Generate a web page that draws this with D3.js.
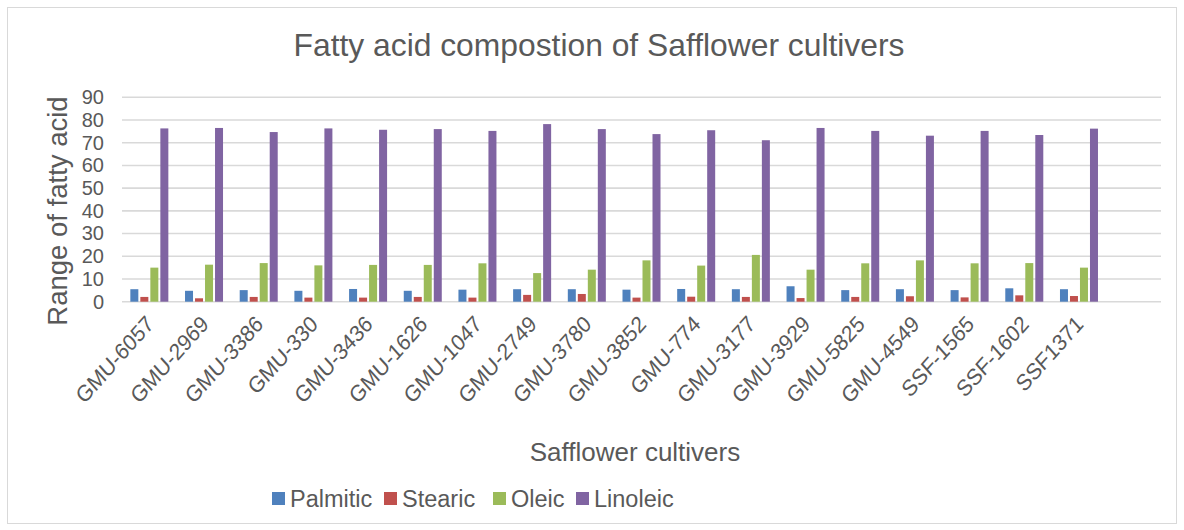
<!DOCTYPE html>
<html>
<head>
<meta charset="utf-8">
<script src="https://cdn.jsdelivr.net/npm/d3@7"></script>
<style>
  body { margin: 0; background: #fff; }
  text { font-family: 'Liberation Sans', Arial, sans-serif; fill: #595959; }
</style>
</head>
<body>
<script>
var cultivars = ['GMU-6057', 'GMU-2969', 'GMU-3386', 'GMU-330', 'GMU-3436', 'GMU-1626', 'GMU-1047', 'GMU-2749', 'GMU-3780',
    'GMU-3852', 'GMU-774', 'GMU-3177', 'GMU-3929', 'GMU-5825', 'GMU-4549', 'SSF-1565', 'SSF-1602', 'SSF1371'];
var series = ['Palmitic', 'Stearic', 'Oleic', 'Linoleic'];
var colors = ['#4f81bd', '#c0504d', '#9bbb59', '#8064a2'];
var palmitic = [5.5, 4.8, 5.1, 4.8, 5.6, 4.8, 5.3, 5.5, 5.5, 5.3, 5.6, 5.5, 6.8, 5.1, 5.5, 5.1, 5.9, 5.5];
var stearic = [2.1, 1.5, 2.1, 1.8, 1.8, 2.1, 1.8, 3.0, 3.4, 1.8, 2.2, 2.1, 1.6, 2.1, 2.4, 1.9, 2.8, 2.5];
var oleic = [15.0, 16.3, 17.0, 16.0, 16.2, 16.2, 16.9, 12.6, 14.1, 18.2, 15.9, 20.6, 14.1, 16.9, 18.2, 16.9, 17.0, 15.0];
var linoleic = [76.3, 76.5, 74.7, 76.3, 75.7, 76.0, 75.2, 78.2, 76.0, 73.8, 75.5, 71.1, 76.5, 75.2, 73.1, 75.2, 73.4, 76.2];
var yTicks = [0, 10, 20, 30, 40, 50, 60, 70, 80, 90];

var w = 1184;
var h = 530;
var plotLeft = 122, plotRight = 1161, plotTop = 97.3, plotBottom = 301.7;
// excel left room for one more category at the end
var step = (plotRight - plotLeft) / (cultivars.length + 1);

var values = [palmitic, stearic, oleic, linoleic];

var svg = d3.select('body')
    .append('svg')
    .attr('width', w)
    .attr('height', h);

// chart border
svg.append('rect')
    .attr('x', 7.5)
    .attr('y', 7.5)
    .attr('width', 1169)
    .attr('height', 516)
    .attr('fill', '#fff')
    .attr('stroke', '#d9d9d9')
    .attr('stroke-width', 1);

var x = d3.scaleBand()
    .domain(cultivars)
    .range([plotLeft, plotLeft + step * cultivars.length])
    .paddingInner(0.305)
    .paddingOuter(0.1525);

var xSub = d3.scaleBand()
    .domain(series)
    .range([0, x.bandwidth()])
    .paddingInner(0.2);

var y = d3.scaleLinear()
    .domain([0, 90])
    .range([plotBottom, plotTop]);

// gridlines
svg.selectAll('line.grid')
    .data(yTicks)
    .enter()
    .append('line')
    .attr('class', 'grid')
    .attr('x1', plotLeft)
    .attr('x2', plotRight)
    .attr('y1', function(d){ return y(d); })
    .attr('y2', function(d){ return y(d); })
    .attr('stroke', '#d9d9d9')
    .attr('stroke-width', 1.6);

// y axis labels
var yAxis = svg.append('g')
    .attr('transform', 'translate(' + (plotLeft - 18) + ',0)')
    .call(d3.axisLeft(y).tickValues(yTicks).tickSize(0).tickPadding(0));
yAxis.select('.domain').remove();
yAxis.selectAll('text')
    .attr('font-size', '20px')
    .attr('font-family', "'Liberation Sans', Arial, sans-serif")
    .attr('fill', '#595959');

// bars, one group per cultivar
var groups = svg.selectAll('g.cult')
    .data(cultivars)
    .enter()
    .append('g')
    .attr('class', 'cult')
    .attr('transform', function(d){ return 'translate(' + x(d) + ',0)'; });

groups.selectAll('rect')
    .data(function(d, i){
        return series.map(function(s, j){ return {key: s, value: values[j][i], color: colors[j]}; });
    })
    .enter()
    .append('rect')
    .attr('x', function(d){ return xSub(d.key); })
    .attr('y', function(d){ return y(d.value); })
    .attr('width', xSub.bandwidth())
    .attr('height', function(d){ return y(0) - y(d.value); })
    .attr('fill', function(d){ return d.color; });

// x axis labels rotated (text in the picture is a bit taller than wide)
var xAxis = svg.append('g')
    .attr('transform', 'translate(0,' + (plotBottom + 14) + ')')
    .call(d3.axisBottom(x).tickSize(0).tickPadding(0));
xAxis.select('.domain').remove();
xAxis.selectAll('text')
    .attr('font-size', '20.5px')
    .attr('font-family', "'Liberation Sans', Arial, sans-serif")
    .attr('fill', '#595959')
    .attr('text-anchor', 'end')
    .attr('dy', '0.6em')
    .attr('transform', 'translate(-3,0) scale(1,1.12) rotate(-45)');

// titles
svg.append('text')
    .attr('x', 599)
    .attr('y', 56)
    .attr('text-anchor', 'middle')
    .attr('font-size', '31.8px')
    .text('Fatty acid compostion of Safflower cultivers');

svg.append('text')
    .attr('transform', 'translate(67,211) rotate(-90)')
    .attr('text-anchor', 'middle')
    .attr('font-size', '27.5px')
    .text('Range of fatty acid');

svg.append('text')
    .attr('x', 635)
    .attr('y', 461)
    .attr('text-anchor', 'middle')
    .attr('font-size', '26px')
    .text('Safflower cultivers');

// legend
var legendX = [272, 384, 493, 576];
var legend = svg.selectAll('g.legend')
    .data(series)
    .enter()
    .append('g')
    .attr('class', 'legend')
    .attr('transform', function(d, i){ return 'translate(' + legendX[i] + ',492)'; });
legend.append('rect')
    .attr('width', 13)
    .attr('height', 13)
    .attr('fill', function(d, i){ return colors[i]; });
legend.append('text')
    .attr('x', 18)
    .attr('y', 15)
    .attr('font-size', '23.5px')
    .text(function(d){ return d; });
</script>
</body>
</html>
